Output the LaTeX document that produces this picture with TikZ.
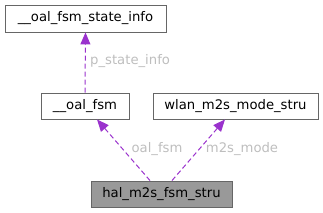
\documentclass[tikz,border=0pt]{standalone}
\usepackage{fontspec}
\setmainfont{DejaVu Sans}
\usetikzlibrary{arrows.meta}
\definecolor{boxline}{HTML}{666666}
\definecolor{edgecol}{HTML}{9A32CD}
\definecolor{lblcol}{HTML}{BEBEBE}
\definecolor{hifill}{HTML}{999999}
\begin{document}
\begin{tikzpicture}[x=1pt,y=1pt,
  cls/.style={draw=boxline,line width=0.9pt,fill=white,inner sep=0pt,font=\fontsize{13.2}{15}\selectfont},
  edge/.style={draw=edgecol,line width=1pt,dash pattern=on 5pt off 3pt,-{Triangle[length=12pt,width=10pt]},shorten >=0pt},
  lbl/.style={text=lblcol,font=\fontsize{13.2}{15}\selectfont,inner sep=0pt}]
\useasboundingbox (0,0) rectangle (323,-212);
\node[cls,minimum width=161pt,minimum height=27pt] (si) at (85.5,-18.5) {\_\_oal\_fsm\_state\_info};
\node[cls,minimum width=88pt,minimum height=26pt] (of) at (85,-106) {\_\_oal\_fsm};
\node[cls,minimum width=165pt,minimum height=26pt] (wl) at (235.5,-106) {wlan\_m2s\_mode\_stru};
\node[cls,fill=hifill,minimum width=141pt,minimum height=26pt] (hal) at (161.5,-194) {hal\_m2s\_fsm\_stru};
\draw[edge] (of.north) -- (si.south);
\draw[edge] ([xshift=-11.5pt]hal.north) -- ([xshift=12pt]of.south);
\draw[edge] ([xshift=10.5pt]hal.north) -- ([xshift=-10.5pt]wl.south);
\node[lbl,anchor=west] (l1) at (90,-61) {p\_state\_info};
\node[lbl] (l2) at (157,-149) {oal\_fsm};
\node[lbl] (l3) at (242,-149) {m2s\_mode};
\end{tikzpicture}
\end{document}
